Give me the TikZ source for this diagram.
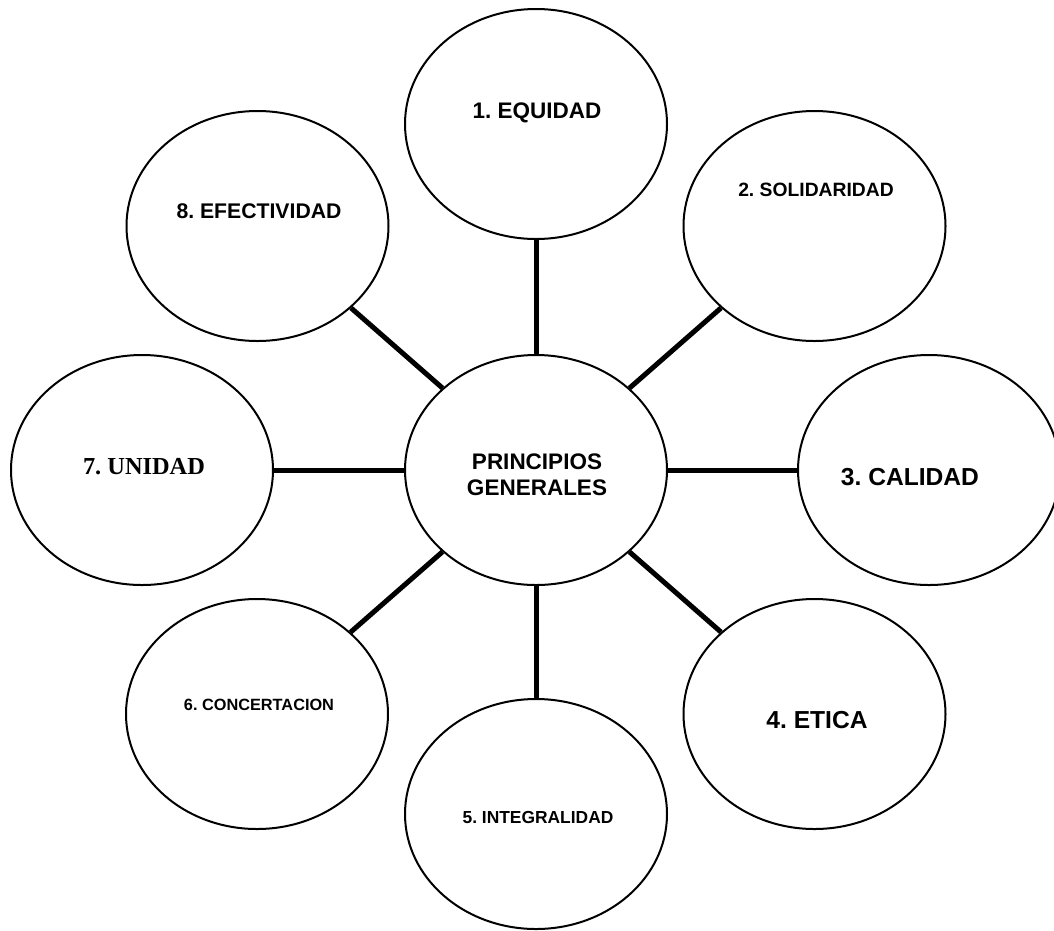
\documentclass[tikz,border=0pt]{standalone}
\usepackage{fontspec}
\setmainfont{Liberation Sans}
\newfontfamily\timesf{Liberation Serif}
\usetikzlibrary{shapes.geometric}
\frenchspacing
\begin{document}
\begin{tikzpicture}[x=1pt,y=-1pt,
  bub/.style={draw, ellipse, line width=2pt, inner sep=0pt, minimum width=262pt, minimum height=230pt},
  lbl/.style={inner sep=0pt, align=center},
  link/.style={line width=5pt}]
\useasboundingbox (0,0) rectangle (1054,930);
\fill[white] (0,0) rectangle (1054,930);
% bubbles
\node[bub] (c)  at (536,470) {};
\node[bub] (e1) at (536,124) {};
\node[bub] (e2) at (814.5,226) {};
\node[bub] (e3) at (929,470) {};
\node[bub] (e4) at (814.5,714) {};
\node[bub] (e5) at (536,814) {};
\node[bub] (e6) at (257,714) {};
\node[bub] (e7) at (142,470) {};
\node[bub] (e8) at (257.5,226) {};
% connectors
\draw[link] (c) -- (e1);
\draw[link] (c) -- (e2);
\draw[link] (c) -- (e3);
\draw[link] (c) -- (e4);
\draw[link] (c) -- (e5);
\draw[link] (c) -- (e6);
\draw[link] (c) -- (e7);
\draw[link] (c) -- (e8);
% labels
\node[lbl, font=\fontsize{22.5}{25.5}\selectfont\bfseries] (tc) at (537,474.5) {PRINCIPIOS\\GENERALES};
\node[lbl, font=\fontsize{22.5}{25}\selectfont\bfseries] (t1) at (537,113) {1. EQUIDAD};
\node[lbl, font=\fontsize{19.3}{22}\selectfont\bfseries] (t2) at (816,190) {2. SOLIDARIDAD};
\node[lbl, font=\fontsize{24.6}{28}\selectfont\bfseries] (t3) at (910,477) {3. CALIDAD};
\node[lbl, font=\fontsize{24.6}{28}\selectfont\bfseries] (t4) at (817,720) {4. ETICA};
\node[lbl, font=\fontsize{17.4}{20}\selectfont\bfseries] (t5) at (538,817) {5. INTEGRALIDAD};
\node[lbl, font=\fontsize{16.3}{19}\selectfont\bfseries] (t6) at (259,705) {6. CONCERTACION};
\node[lbl, font=\fontsize{24.4}{28}\selectfont\timesf\bfseries] (t7) at (144,467) {7. UNIDAD};
\node[lbl, font=\fontsize{21.2}{24}\selectfont\bfseries] (t8) at (259,211) {8. EFECTIVIDAD};
\end{tikzpicture}
\end{document}
